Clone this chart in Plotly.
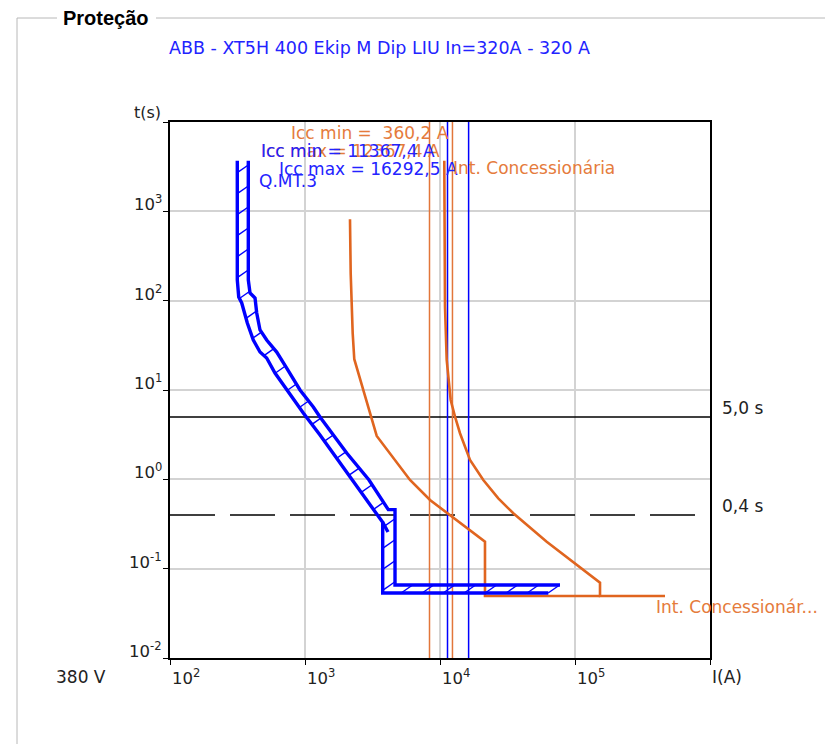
import numpy as np
import plotly.graph_objects as go

# ---------------------------------------------------------------- layout
W, H = 825, 744
ML, MR, MT, MB = 170, 115, 122, 86
PW, PH = W - ML - MR, H - MT - MB
X_DEC = (2, 6)      # 10^2 .. 10^6 A
Y_DEC = (-2, 4)     # 10^-2 .. 10^4 s
PX_DEC_X = PW / (X_DEC[1] - X_DEC[0])
PX_DEC_Y = PH / (Y_DEC[1] - Y_DEC[0])

BLUE = "#0000FF"
BLUE_TXT = "#2323FF"
ORANGE = "#E0651F"
ORANGE_THIN = "#E2763A"
ORANGE_TXT = "#E57B3C"
GRID = "#D3D3D3"
FONT = "DejaVu Sans"

# ---------------------------------------------------------------- data
# Q.MT.3 - ABB XT5H 400 Ekip M Dip LIU, In = 320 A (tripping band)
qmt_min_i = [315.1, 315.1, 322.8, 339.8, 373.9, 414.1, 464.2, 520.2, 599.5,
             731.9, 971.4, 1291.5, 1755, 2229, 2929, 3532, 3763, 3763, 63420]
qmt_min_t = [3690, 170.4, 110, 94.2, 56.2, 36.3, 26.6, 22.8, 15.5,
             10.0, 5.53, 3.14, 1.646, 0.983, 0.543, 0.369, 0.33, 0.0534, 0.0534]
qmt_tail_i = [3763, 4120]
qmt_tail_t = [0.33, 0.257]
qmt_max_i = [380.2, 380.2, 391.5, 426.4, 438.9, 464.2, 520.2, 617.2, 731.9,
             918.3, 1152, 1291.5, 2037, 2979, 4140, 4642, 4642, 77430]
qmt_max_t = [3690, 170.4, 121.9, 107.2, 72.8, 47.0, 36.3, 26.6, 17.6,
             10.0, 6.45, 4.99, 1.97, 0.983, 0.458, 0.458, 0.0657, 0.0657]

# Int. Concessionária (utility breaker) curves
conc_a_i = [2154, 2180, 2256, 2318, 3398, 5995, 8433, 21540, 21540, 153200]
conc_a_t = [815, 202.6, 43.1, 22.1, 3.06, 0.983, 0.587, 0.2003, 0.0494, 0.0494]
conc_b_i = [10760, 10890, 11210, 11999, 12915, 14065, 16681, 20930, 27030,
            34910, 61720, 153200, 153200, 464200]
conc_b_t = [3690, 85.6, 21.7, 7.73, 5.03, 3.28, 1.646, 0.983, 0.613,
            0.417, 0.2003, 0.0697, 0.0494, 0.0494]

# short-circuit currents (A)
qmt_icc_min = 11367.4
qmt_icc_max = 16292.5
conc_icc_min = 8360.2
conc_icc_max = 12367.4

# reference times (s)
t_ref_solid = 5.0
t_ref_dash = 0.4

x_tick_exp = [2, 3, 4, 5]
y_tick_exp = [-2, -1, 0, 1, 2, 3]

I_LO, I_HI = 10 ** X_DEC[0], 10 ** X_DEC[1]
T_LO, T_HI = 10 ** Y_DEC[0], 10 ** Y_DEC[1]


def fmt(v):
    return f"{v:.1f}".replace(".", ",")


# ---------------------------------------------------------------- hatching
def to_px(i_vals, t_vals):
    return np.column_stack([(np.log10(i_vals) - X_DEC[0]) * PX_DEC_X,
                            (np.log10(t_vals) - Y_DEC[0]) * PX_DEC_Y])


def from_px(p):
    return 10 ** (p[0] / PX_DEC_X + X_DEC[0]), 10 ** (p[1] / PX_DEC_Y + Y_DEC[0])


def sample_along(poly, step, start):
    seg = np.diff(poly, axis=0)
    lens = np.hypot(seg[:, 0], seg[:, 1])
    cum = np.concatenate([[0.0], np.cumsum(lens)])
    out = []
    s = start
    while s < cum[-1]:
        k = min(int(np.searchsorted(cum, s, side="right")) - 1, len(lens) - 1)
        if lens[k] > 0:
            out.append(poly[k] + (s - cum[k]) / lens[k] * seg[k])
        s += step
    return out


def ray_hit(p, d, poly, max_len):
    best = None
    for a, b in zip(poly[:-1], poly[1:]):
        e = b - a
        ap = a - p
        det = -d[0] * e[1] + e[0] * d[1]
        if abs(det) < 1e-9:
            continue
        u = (-ap[0] * e[1] + e[0] * ap[1]) / det
        v = (d[0] * ap[1] - d[1] * ap[0]) / det
        if 1e-6 < u <= max_len and -1e-9 <= v <= 1 + 1e-9:
            if best is None or u < best:
                best = u
    return None if best is None else p + best * d


lo_poly = to_px(qmt_min_i, qmt_min_t)
hi_poly = to_px(qmt_max_i, qmt_max_t)
direction = np.array([1.0, 0.7])
direction /= np.hypot(*direction)
hx, hy = [], []
for p in sample_along(lo_poly, 21.0, 12.0):
    q = ray_hit(p, direction, hi_poly, 40.0)
    if q is None:
        continue
    i0, t0 = from_px(p)
    i1, t1 = from_px(q)
    hx += [i0, i1, None]
    hy += [t0, t1, None]

# ---------------------------------------------------------------- figure
fig = go.Figure()


def line(x, y, color, width, dash="solid"):
    fig.add_trace(go.Scatter(x=x, y=y, mode="lines", hoverinfo="skip",
                             line=dict(color=color, width=width, dash=dash)))


# reference time lines
line([I_LO, I_HI], [t_ref_solid, t_ref_solid], "#000000", 1.5)
line([I_LO, I_HI], [t_ref_dash, t_ref_dash], "#000000", 1.5, "45px,15px")

# short-circuit current markers
line([conc_icc_min] * 2, [T_LO, T_HI], ORANGE_THIN, 1.5)
line([conc_icc_max] * 2, [T_LO, T_HI], ORANGE_THIN, 1.5)
line([qmt_icc_min] * 2, [T_LO, T_HI], BLUE, 1.5)
line([qmt_icc_max] * 2, [T_LO, T_HI], BLUE, 1.5)

# utility breaker curves
line(conc_a_i, conc_a_t, ORANGE, 2.6)
line(conc_b_i, conc_b_t, ORANGE, 2.6)

# Q.MT.3 band
line(hx, hy, BLUE, 1.4)
line(qmt_min_i, qmt_min_t, BLUE, 3.4)
line(qmt_tail_i, qmt_tail_t, BLUE, 3.4)
line(qmt_max_i, qmt_max_t, BLUE, 3.4)


def px_x(x):
    return (x - ML) / PW


def px_y(y):
    return (H - MB - y) / PH


ann = []


def text_px(txt, x, y, color, size=17, xanchor="left", family=FONT, bold=False):
    ann.append(dict(text=f"<b>{txt}</b>" if bold else txt, xref="paper", yref="paper",
                    x=px_x(x), y=px_y(y), xanchor=xanchor, yanchor="middle",
                    showarrow=False, font=dict(family=family, size=size, color=color)))


# heading and frame
text_px("Proteção", 61, 18, "#000000", 20, family="Liberation Sans", bold=True)
text_px("ABB - XT5H 400 Ekip M Dip LIU In=320A - 320 A", 167, 48, BLUE_TXT, 17.5)

# axis captions
text_px("t(s)", 163, 113, "#222222", 16, xanchor="right")
text_px("380 V", 54, 677, "#222222", 17)
text_px("I(A)", 710, 677, "#222222", 17)

for e in x_tick_exp:
    ann.append(dict(text=f"10<sup>{e}</sup>", xref="x", yref="paper", x=e, y=0,
                    xanchor="left", yanchor="middle", xshift=0, yshift=-19,
                    showarrow=False, font=dict(family=FONT, size=16.5, color="#222222")))
for e in y_tick_exp:
    ann.append(dict(text=f"10<sup>{e}</sup>", xref="paper", yref="y", x=0, y=e,
                    xanchor="right", yanchor="middle", xshift=-6, yshift=8,
                    showarrow=False, font=dict(family=FONT, size=16.5, color="#222222")))

# reference time labels
for t in (t_ref_solid, t_ref_dash):
    ann.append(dict(text=f"{fmt(t)} s", xref="paper", yref="y", x=1, y=np.log10(t),
                    xanchor="left", yanchor="middle", xshift=10, yshift=9,
                    showarrow=False, font=dict(family=FONT, size=17, color="#222222")))

# curve labels
text_px("Icc min =  360,2 A", 289, 133, ORANGE_TXT)
text_px(f"Icc max = {fmt(conc_icc_max)} A", 259, 151, ORANGE_TXT)
text_px(f"Icc min = {fmt(qmt_icc_min)} A", 259, 151, BLUE_TXT)
text_px(f"Icc max = {fmt(qmt_icc_max)} A", 277, 169, BLUE_TXT)
text_px("Q.MT.3", 257, 181, BLUE_TXT)
text_px("Int. Concessionária", 451, 168, ORANGE_TXT)
text_px("Int. Concessionár...", 654, 607, ORANGE_TXT)

frame = dict(type="line", xref="paper", yref="paper",
             line=dict(color="#B8B8B8", width=1))
shapes = [
    dict(frame, x0=px_x(17), x1=px_x(57), y0=px_y(18), y1=px_y(18)),
    dict(frame, x0=px_x(156), x1=px_x(W), y0=px_y(18), y1=px_y(18)),
    dict(frame, x0=px_x(17), x1=px_x(17), y0=px_y(18), y1=px_y(H)),
]

axis_common = dict(type="log", showgrid=True, gridcolor=GRID, gridwidth=1.6,
                   dtick=1, showticklabels=False, ticks="outside", ticklen=5,
                   tickcolor="#000000", tickwidth=1, showline=True,
                   linecolor="#000000", linewidth=1.5, mirror=True, zeroline=False)

fig.update_layout(
    width=W, height=H, margin=dict(l=ML, r=MR, t=MT, b=MB),
    paper_bgcolor="white", plot_bgcolor="white", showlegend=False,
    xaxis=dict(axis_common, range=list(X_DEC)),
    yaxis=dict(axis_common, range=list(Y_DEC)),
    annotations=ann, shapes=shapes,
)

fig.write_html("out.html")
